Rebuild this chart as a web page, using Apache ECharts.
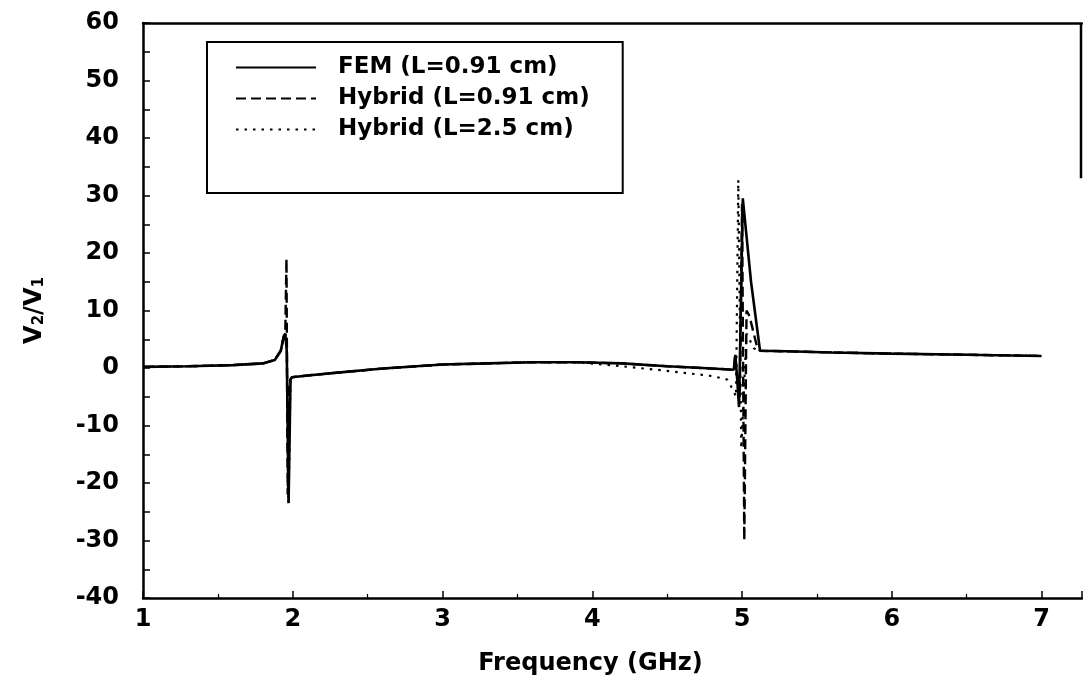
<!DOCTYPE html>
<html>
<head>
<meta charset="utf-8">
<script src="https://cdn.jsdelivr.net/npm/echarts@6/dist/echarts.min.js"></script>
<style>
  html, body { margin: 0; padding: 0; background: #fff; }
  #chart { width: 1083px; height: 687px; }
</style>
</head>
<body>
<div id="chart"></div>
<script>
// Voltage transfer ratio V2/V1 versus frequency
const seriesNames = ['FEM (L=0.91 cm)', 'Hybrid (L=0.91 cm)', 'Hybrid (L=2.5 cm)'];

const femFreq = [1.0, 1.3, 1.6, 1.8, 1.88, 1.92, 1.94, 1.95, 1.96, 1.972, 1.985, 1.995, 2.1, 2.3, 2.6, 3.0, 3.3, 3.6, 3.9, 4.2, 4.5, 4.8, 4.945, 4.955, 4.965, 4.98, 5.005, 5.06, 5.12, 5.3, 5.6, 6.0, 6.5, 7.0];
const femVal  = [0.2, 0.3, 0.5, 0.8, 1.4, 3.0, 5.5, 6.0, 3.0, -23.5, -2.0, -1.6, -1.3, -0.8, -0.1, 0.6, 0.8, 1.0, 1.0, 0.8, 0.3, -0.1, -0.3, 2.3, -1.0, -6.8, 29.5, 15.0, 3.0, 2.9, 2.7, 2.5, 2.3, 2.1];

const hyb091Freq = [1.0, 1.3, 1.6, 1.8, 1.88, 1.92, 1.94, 1.95, 1.958, 1.966, 1.975, 1.985, 1.995, 2.1, 2.3, 2.6, 3.0, 3.3, 3.6, 3.9, 4.2, 4.5, 4.8, 4.945, 4.955, 4.965, 4.985, 5.0, 5.015, 5.03, 5.05, 5.1, 5.12, 5.3, 5.6, 6.0, 6.5, 7.0];
const hyb091Val  = [0.2, 0.3, 0.5, 0.8, 1.4, 3.0, 5.5, 6.0, 19.0, -22.0, -2.5, -2.0, -1.6, -1.3, -0.8, -0.1, 0.6, 0.8, 1.0, 1.0, 0.8, 0.3, -0.1, -0.3, 2.3, -1.0, -5.0, 28.5, -30.0, 10.0, 9.0, 3.7, 3.0, 2.9, 2.7, 2.5, 2.3, 2.1];

const hyb25Freq = [1.0, 1.3, 1.6, 1.8, 1.88, 1.92, 1.94, 1.95, 1.96, 1.972, 1.985, 1.995, 2.1, 2.3, 2.6, 3.0, 3.3, 3.6, 3.9, 4.2, 4.5, 4.8, 4.9, 4.94, 4.96, 4.975, 4.995, 5.03, 5.08, 5.12, 5.3, 5.6, 6.0, 6.5, 7.0];
const hyb25Val  = [0.2, 0.3, 0.5, 0.8, 1.4, 3.0, 5.5, 6.0, 3.0, -23.5, -2.0, -1.6, -1.3, -0.8, -0.1, 0.6, 0.8, 1.0, 1.0, 0.3, -0.5, -1.4, -2.0, -3.8, -5.0, 32.7, -14.0, 6.0, 3.4, 3.0, 2.9, 2.7, 2.5, 2.3, 2.1];

const xTicks = [1, 2, 3, 4, 5, 6, 7];
const yTicks = [-40, -30, -20, -10, 0, 10, 20, 30, 40, 50, 60];

const FONT = 'DejaVu Sans';
const pairs = (f, v) => f.map((x, i) => [x, v[i]]);

const chart = echarts.init(document.getElementById('chart'), null, { renderer: 'canvas' });

const axisText = { color: '#000', fontFamily: FONT, fontWeight: 'bold', fontSize: 24 };

chart.setOption({
  animation: false,
  backgroundColor: '#fff',
  grid: { left: 143, right: 1, top: 23, bottom: 89, containLabel: false },
  legend: {
    orient: 'vertical',
    left: 207,
    top: 42,
    padding: [14, 33, 52, 28],
    borderColor: '#000',
    borderWidth: 2,
    itemWidth: 80,
    itemHeight: 20,
    itemGap: 8,
    itemStyle: { opacity: 0 },
    textStyle: { color: '#000', fontFamily: FONT, fontWeight: 'bold', fontSize: 23, padding: [0, 0, 0, 17] },
    data: seriesNames
  },
  xAxis: [{
    type: 'value',
    min: xTicks[0],
    max: 7.27,
    interval: 1,
    name: 'Frequency (GHz)',
    nameLocation: 'middle',
    nameGap: 54,
    nameTextStyle: Object.assign({}, axisText, { padding: [0, 44, 0, 0] }),
    axisLine: { show: true, onZero: false, lineStyle: { color: '#000', width: 2.5 } },
    axisTick: { show: true, inside: true, length: 7, lineStyle: { color: '#000', width: 1.5 } },
    minorTick: { show: true, splitNumber: 2, length: 4, lineStyle: { color: '#000', width: 1.2 } },
    axisLabel: Object.assign({}, axisText, {
      margin: 10,
      showMaxLabel: false,
      formatter: v => (xTicks.indexOf(v) >= 0 ? String(v) : '')
    }),
    splitLine: { show: false }
  }, {
    type: 'value',
    position: 'top',
    min: xTicks[0],
    max: 7.27,
    axisLine: { show: true, onZero: false, lineStyle: { color: '#000', width: 2.5 } },
    axisTick: { show: false },
    axisLabel: { show: false },
    splitLine: { show: false }
  }],
  yAxis: {
    type: 'value',
    min: yTicks[0],
    max: yTicks[yTicks.length - 1],
    interval: 10,
    name: 'V{s|2}/V{s|1}',
    nameLocation: 'middle',
    nameGap: 96,
    nameTextStyle: Object.assign({}, axisText, {
      rich: {
        s: { fontFamily: FONT, fontWeight: 'bold', fontSize: 15, color: '#000', padding: [10, 0, 0, 0], verticalAlign: 'bottom' }
      }
    }),
    axisLine: { show: true, onZero: false, lineStyle: { color: '#000', width: 2.5 } },
    axisTick: { show: true, inside: true, length: 7, lineStyle: { color: '#000', width: 1.5 } },
    minorTick: { show: true, splitNumber: 2, length: 7, lineStyle: { color: '#000', width: 1.5 } },
    axisLabel: Object.assign({}, axisText, { margin: 24 }),
    splitLine: { show: false }
  },
  series: [
    {
      name: seriesNames[2], type: 'line', symbol: 'none', z: 2,
      lineStyle: { color: '#000', width: 2.2, type: [2.5, 6] },
      itemStyle: { color: '#000' },
      data: pairs(hyb25Freq, hyb25Val)
    },
    {
      name: seriesNames[1], type: 'line', symbol: 'none', z: 3,
      lineStyle: { color: '#000', width: 2.4, type: [10, 5] },
      itemStyle: { color: '#000' },
      data: pairs(hyb091Freq, hyb091Val)
    },
    {
      name: seriesNames[0], type: 'line', symbol: 'none', z: 4,
      lineStyle: { color: '#000', width: 2.6 },
      itemStyle: { color: '#000' },
      data: pairs(femFreq, femVal)
    }
  ]
});

// Right-hand frame edge, drawn only along its upper part
const topRight = chart.convertToPixel({ xAxisIndex: 0, yAxisIndex: 0 }, [7.27, 60]);
const midRight = chart.convertToPixel({ xAxisIndex: 0, yAxisIndex: 0 }, [7.27, 33]);
chart.setOption({
  graphic: [{
    type: 'line',
    shape: { x1: topRight[0] - 1, y1: topRight[1], x2: midRight[0] - 1, y2: midRight[1] },
    style: { stroke: '#000', lineWidth: 2.5 }
  }]
});
</script>
</body>
</html>
